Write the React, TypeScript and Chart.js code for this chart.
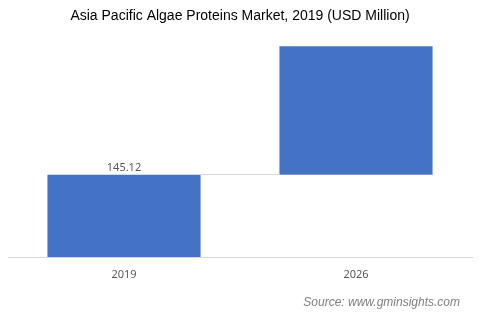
import React, { useEffect, useRef } from "react";
import { Chart, registerables } from "chart.js";

Chart.register(...registerables);

const title = "Asia Pacific Algae Proteins Market, 2019 (USD Million)";
const source = "Source: www.gminsights.com";
const categories = ["2019", "2026"];
const startValues = [0, 145.12];
const endValues = [145.12, 372];
const labelTexts = ["145.12", ""];

const overlayPlugin = {
  id: "overlay",
  afterDatasetsDraw(chart: any) {
    const ctx = chart.ctx;
    const meta = chart.getDatasetMeta(0);
    const bars = meta.data;
    ctx.save();
    // connector
    if (bars.length > 1) {
      const b0 = bars[0];
      const b1 = bars[1];
      const y = Math.round(b0.y) - 0.5;
      ctx.strokeStyle = "#d9d9d9";
      ctx.lineWidth = 1;
      ctx.beginPath();
      ctx.moveTo(b0.x + b0.width / 2, y);
      ctx.lineTo(b1.x - b1.width / 2, y);
      ctx.stroke();
    }
    // data labels
    ctx.fillStyle = "#595959";
    ctx.font = "11px 'Noto Sans'";
    ctx.textAlign = "center";
    ctx.textBaseline = "bottom";
    bars.forEach((b: any, i: number) => {
      if (labelTexts[i]) ctx.fillText(labelTexts[i], b.x, b.y - 1);
    });
    // title
    ctx.fillStyle = "#000000";
    ctx.font = "14px 'Liberation Sans'";
    ctx.textBaseline = "middle";
    ctx.fillText(title, 240, 16);
    // source
    ctx.fillStyle = "#7f7f7f";
    ctx.font = "italic 12px 'Liberation Sans'";
    ctx.textAlign = "right";
    ctx.fillText(source, 460, 303);
    ctx.restore();
  },
};

export default function App() {
  const ref = useRef<HTMLCanvasElement>(null);
  useEffect(() => {
    const chart = new Chart(ref.current!, {
      type: "bar",
      data: {
        labels: categories,
        datasets: [
          {
            data: categories.map((_, i) => [startValues[i], endValues[i]]) as any,
            backgroundColor: "#4472C4",
            borderWidth: 0,
            categoryPercentage: 1,
            barPercentage: 0.66,
          },
        ],
      },
      options: {
        animation: false,
        responsive: false,
        layout: { padding: { top: 40, left: 8, right: 8, bottom: 0 } },
        plugins: {
          legend: { display: false },
          tooltip: { enabled: false },
          title: { display: false },
        },
        scales: {
          x: {
            grid: { display: false, drawTicks: false },
            border: { display: true, color: "#d9d9d9", width: 1 },
            ticks: {
              color: "#595959",
              font: { family: "'Noto Sans'", size: 11 },
              padding: 11,
            },
            afterFit(scale: any) {
              scale.height = 65;
            },
          },
          y: {
            display: false,
            min: 0,
            max: 383,
          },
        },
      },
      plugins: [overlayPlugin],
    });
    return () => chart.destroy();
  }, []);
  return (
    <div style={{ position: "fixed", left: 0, top: 0, width: 480, height: 322, background: "#fff" }}>
      <canvas ref={ref} width={480} height={322} style={{ width: 480, height: 322 }} />
    </div>
  );
}
